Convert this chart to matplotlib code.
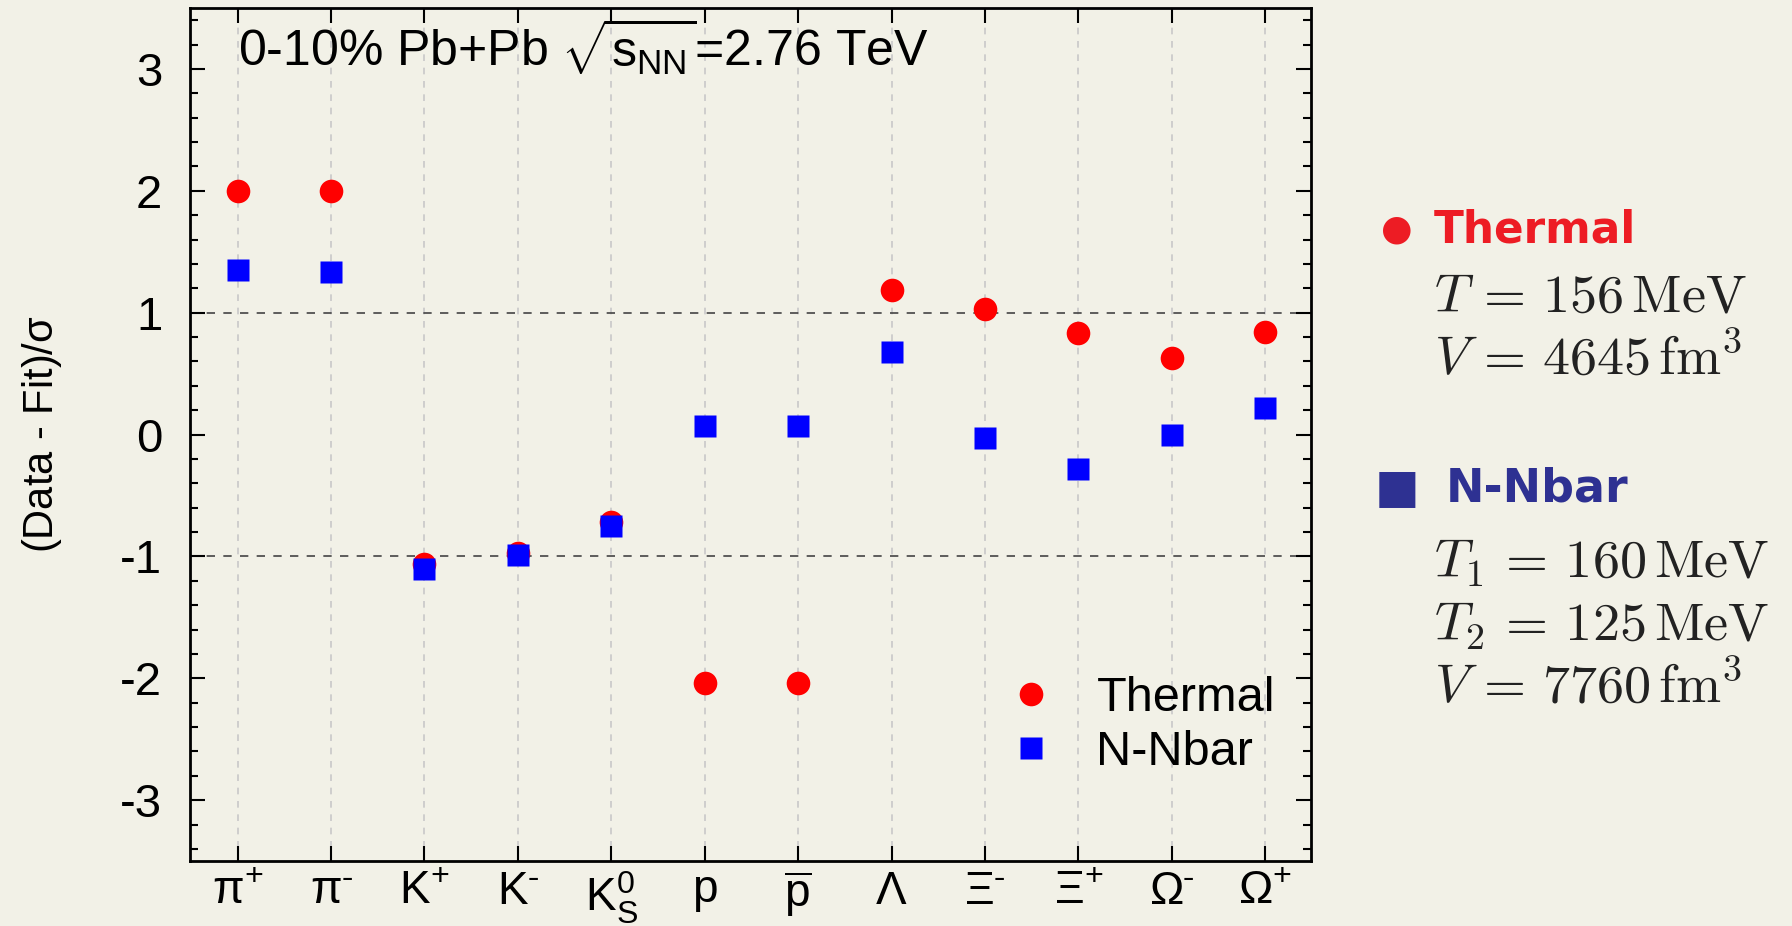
import matplotlib
matplotlib.use("Agg")
import matplotlib.pyplot as plt
from matplotlib.ticker import MultipleLocator

plt.rcParams['font.family'] = ['Liberation Sans', 'DejaVu Sans']
plt.rcParams['mathtext.fontset'] = 'cm'
plt.rcParams['axes.unicode_minus'] = False

# categories and values
particles = [r'$\mathregular{\pi^{+}}$', r'$\mathregular{\pi^{\text{-}}}$', r'$\mathregular{K^{+}}$',
             r'$\mathregular{K^{\text{-}}}$', r'$\mathregular{K_{S}^{0}}$', r'$\mathregular{p}$',
             r'$\mathregular{\overline{p}}$', r'$\mathregular{\Lambda}$', r'$\mathregular{\Xi^{\text{-}}}$',
             r'$\mathregular{\Xi^{+}}$', r'$\mathregular{\Omega^{\text{-}}}$', r'$\mathregular{\Omega^{+}}$']
thermal = [2.0, 2.0, -1.06, -0.97, -0.72, -2.04, -2.04, 1.19, 1.03, 0.83, 0.63, 0.84]
nnbar = [1.35, 1.33, -1.10, -0.99, -0.75, 0.07, 0.07, 0.68, -0.03, -0.28, 0.0, 0.22]
yticks = [-3, -2, -1, 0, 1, 2, 3]
ytick_labels = ['-3', '-2', '-1', '0', '1', '2', '3']

bg = '#f2f1e7'
xs = list(range(1, len(particles) + 1))

fig = plt.figure(figsize=(17.92, 9.26), dpi=100, facecolor=bg)
ax = fig.add_axes([0.106, 0.070, 0.6256, 0.9214], facecolor=bg)

# vertical grid lines at each particle
for x in xs:
    ax.axvline(x, color='#c8c8c8', lw=1.2, ls=(0, (4, 4)), zorder=0)
ax.axhline(1, color='#444444', lw=1.2, ls=(0, (5, 5)), zorder=1)
ax.axhline(-1, color='#444444', lw=1.2, ls=(0, (5, 5)), zorder=1)

ax.plot(xs, thermal, 'o', color='#ff0000', ms=17, mec='none', label='Thermal', zorder=3)
ax.plot(xs, nnbar, 's', color='#0000ff', ms=16, mec='none', label='N-Nbar', zorder=4)

ax.set_xlim(0.49, 12.49)
ax.set_ylim(-3.5, 3.5)
ax.set_xticks(xs)
ax.set_xticklabels(particles, fontsize=33)
ax.set_yticks(yticks)
ax.set_yticklabels(ytick_labels, fontsize=34)
ax.yaxis.set_minor_locator(MultipleLocator(0.2))
ax.tick_params(which='both', direction='in', top=True, right=True, width=1.5)
ax.tick_params(which='major', length=11)
ax.tick_params(which='minor', length=6)
ax.tick_params(axis='y', pad=20)
ax.tick_params(axis='x', pad=6)
for s in ax.spines.values():
    s.set_linewidth(2)

ax.set_ylabel(r'(Data - Fit)/$\mathregular{\sigma}$', fontsize=30, labelpad=40)

ax.text(0.043, 0.955, r'0-10% Pb+Pb $\mathregular{\sqrt{s_{NN}}}$=2.76 TeV',
        transform=ax.transAxes, fontsize=36, va='center', ha='left')

ax.legend(loc='lower left', bbox_to_anchor=(0.685, 0.072), frameon=False, fontsize=35,
          handletextpad=0.35, labelspacing=0.2, borderpad=0, markerscale=1.0)

# right-hand parameter panel
red = '#ed1c24'
navy = '#2e3192'
fig.text(0.7795, 0.752, u'\u25cf', color=red, fontsize=26, va='center', ha='center',
         family=['DejaVu Sans'])
fig.text(0.800, 0.752, 'Thermal', color=red, fontsize=31.5, weight='bold', va='center',
         family=['DejaVu Sans'])
fig.text(0.800, 0.679, r'$T\, =\, 156\,\mathrm{MeV}$', fontsize=39, va='center', color='#222222')
fig.text(0.800, 0.611, r'$V\, =\, 4645\,\mathrm{fm}^3$', fontsize=39, va='center', color='#222222')
fig.text(0.7795, 0.472, u'\u25a0', color=navy, fontsize=34, va='center', ha='center',
         family=['DejaVu Sans'])
fig.text(0.807, 0.472, 'N-Nbar', color=navy, fontsize=33, weight='bold', va='center',
         family=['DejaVu Sans'])
fig.text(0.800, 0.392, r'$T_1\, =\, 160\,\mathrm{MeV}$', fontsize=39, va='center', color='#222222')
fig.text(0.800, 0.324, r'$T_2\, =\, 125\,\mathrm{MeV}$', fontsize=39, va='center', color='#222222')
fig.text(0.800, 0.258, r'$V\, =\, 7760\,\mathrm{fm}^3$', fontsize=39, va='center', color='#222222')

fig.savefig('out.png', dpi=100, facecolor=bg)
